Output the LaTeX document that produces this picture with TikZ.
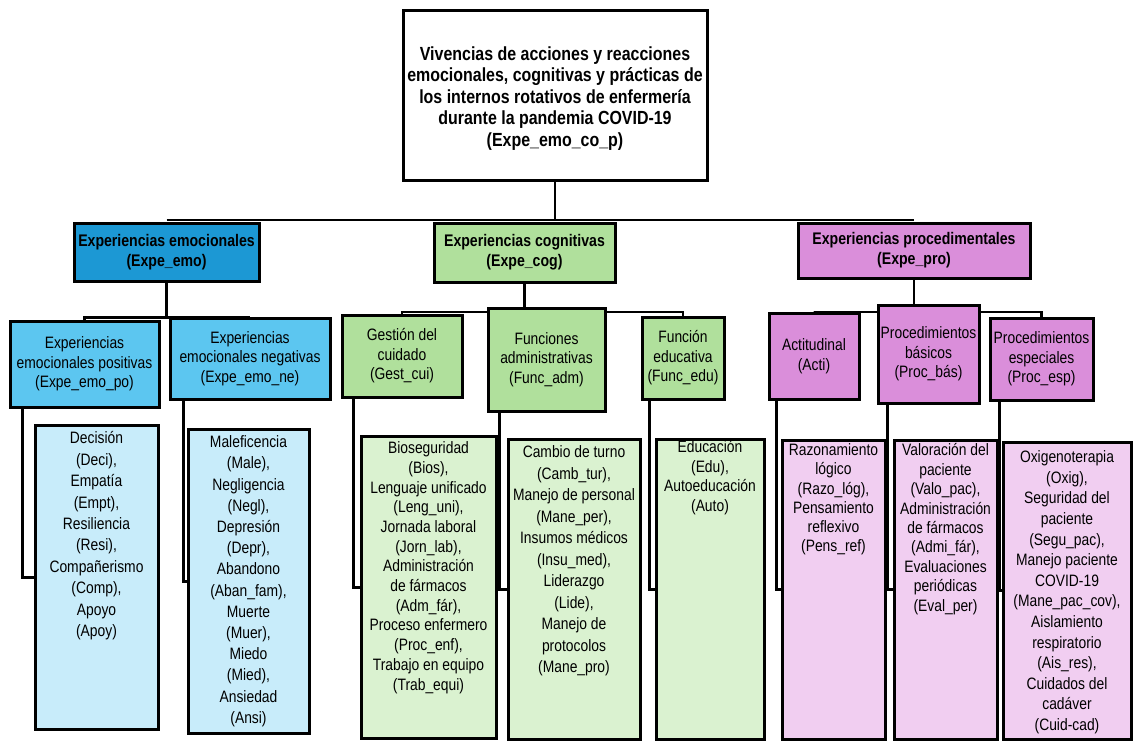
\documentclass[tikz,border=0pt]{standalone}
\usepackage{fontspec}
\setmainfont{Liberation Sans}
\newfontfamily\narrowfont{Liberation Sans}[FakeStretch=0.84]
\usetikzlibrary{positioning,backgrounds}
\definecolor{emoDark}{RGB}{28,152,212}
\definecolor{emoMid}{RGB}{92,198,240}
\definecolor{emoLight}{RGB}{200,236,250}
\definecolor{cogMid}{RGB}{176,224,156}
\definecolor{cogLight}{RGB}{218,242,208}
\definecolor{proMid}{RGB}{218,142,218}
\definecolor{proLight}{RGB}{241,206,241}
\tikzset{
    conn/.style={line width=2.5pt},
    elbow/.style={line width=3pt},
    boxbase/.style={draw, line width=3pt, inner sep=1pt, align=center},
    titlebox/.style={boxbase, fill=white},
    titletext/.style={align=center, inner sep=0pt, font=\narrowfont\bfseries\fontsize{19}{21.5}\selectfont},
    catbox/.style={boxbase, font=\narrowfont\bfseries\fontsize{16.8}{20}\selectfont},
    subbox/.style={boxbase, font=\narrowfont\fontsize{16.5}{19.5}\selectfont},
    leafbox/.style={draw, line width=3pt},
    leaftext/.style={align=center, inner sep=0pt, font=\narrowfont\fontsize{16.5}{#1}\selectfont}
}
\begin{document}
\begin{tikzpicture}[x=1pt,y=-1pt]
    \useasboundingbox (0,0) rectangle (1133,740);
    \node[titlebox, minimum width=304pt, minimum height=170pt] (top) at (555,95) {};
    \node[titletext, below=38pt of top.north] (topT)
        {Vivencias de acciones y reacciones\\
         emocionales, cognitivas y prácticas de\\
         los internos rotativos de enfermería\\
         durante la pandemia COVID-19\\
         (Expe\_emo\_co\_p)};
    \node[catbox, fill=emoDark, minimum width=185pt, minimum height=58pt] (emo) at (166.5,252)
        {Experiencias emocionales\\(Expe\_emo)};
    \node[catbox, fill=cogMid, minimum width=181pt, minimum height=59pt] (cog) at (524.5,252.5)
        {Experiencias cognitivas\\(Expe\_cog)};
    \node[catbox, fill=proMid, minimum width=232pt, minimum height=55pt] (pro) at (914,250.5)
        {Experiencias procedimentales\\(Expe\_pro)};
    \node[subbox, fill=emoMid, minimum width=149pt, minimum height=86pt] (po) at (84.5,364)
        {Experiencias\\emocionales positivas\\(Expe\_emo\_po)};
    \node[subbox, fill=emoMid, minimum width=160pt, minimum height=81pt] (ne) at (250,358.5)
        {Experiencias\\emocionales negativas\\(Expe\_emo\_ne)};
    \node[subbox, fill=cogMid, minimum width=120pt, minimum height=82pt] (gest) at (402,356)
        {Gestión del\\cuidado\\(Gest\_cui)};
    \node[subbox, fill=cogMid, minimum width=117pt, minimum height=103pt] (adm) at (546.5,359.5)
        {Funciones\\administrativas\\(Func\_adm)};
    \node[subbox, fill=cogMid, minimum width=82pt, minimum height=82pt] (edu) at (683,358)
        {Función\\educativa\\(Func\_edu)};
    \node[subbox, fill=proMid, minimum width=90pt, minimum height=86pt] (acti) at (814,356)
        {Actitudinal\\(Acti)};
    \node[subbox, fill=proMid, minimum width=101pt, minimum height=98pt] (bas) at (928.5,354)
        {Procedimientos\\básicos\\(Proc\_bás)};
    \node[subbox, fill=proMid, minimum width=103pt, minimum height=82pt] (esp) at (1041.5,359)
        {Procedimientos\\especiales\\(Proc\_esp)};
    \node[leafbox, fill=emoLight, minimum width=123pt, minimum height=304pt] (poL) at (96.5,577) {};
    \node[leafbox, fill=emoLight, minimum width=121pt, minimum height=304pt] (neL) at (248.5,581) {};
    \node[leafbox, fill=cogLight, minimum width=135pt, minimum height=302pt] (gestL) at (428.5,587) {};
    \node[leafbox, fill=cogLight, minimum width=132pt, minimum height=300pt] (admL) at (574,589) {};
    \node[leafbox, fill=cogLight, minimum width=108pt, minimum height=300pt] (eduL) at (710,589) {};
    \node[leafbox, fill=proLight, minimum width=103pt, minimum height=299pt] (actiL) at (833.5,589.5) {};
    \node[leafbox, fill=proLight, minimum width=103pt, minimum height=299pt] (basL) at (945.5,589.5) {};
    \node[leafbox, fill=proLight, minimum width=128pt, minimum height=297pt] (espL) at (1067,590.5) {};
    \node[leaftext=21.4, below=8pt of poL.north] (poT)
        {Decisión\\(Deci),\\Empatía\\(Empt),\\Resiliencia\\(Resi),\\Compañerismo\\(Comp),\\Apoyo\\(Apoy)};
    \node[leaftext=21.2, below=8pt of neL.north] (neT)
        {Maleficencia\\(Male),\\Negligencia\\(Negl),\\Depresión\\(Depr),\\Abandono\\(Aban\_fam),\\Muerte\\(Muer),\\Miedo\\(Mied),\\Ansiedad\\(Ansi)};
    \node[leaftext=19.7, below=7pt of gestL.north] (gestT)
        {Bioseguridad\\(Bios),\\Lenguaje unificado\\(Leng\_uni),\\Jornada laboral\\(Jorn\_lab),\\Administración\\de fármacos\\(Adm\_fár),\\Proceso enfermero\\(Proc\_enf),\\Trabajo en equipo\\(Trab\_equi)};
    \node[leaftext=21.5, below=8pt of admL.north] (admT)
        {Cambio de turno\\(Camb\_tur),\\Manejo de personal\\(Mane\_per),\\Insumos médicos\\(Insu\_med),\\Liderazgo\\(Lide),\\Manejo de\\protocolos\\(Mane\_pro)};
    \node[leaftext=19.4, below=3pt of eduL.north] (eduT)
        {Educación\\(Edu),\\Autoeducación\\(Auto)};
    \node[leaftext=19.2, below=5pt of actiL.north] (actiT)
        {Razonamiento\\lógico\\(Razo\_lóg),\\Pensamiento\\reflexivo\\(Pens\_ref)};
    \node[leaftext=19.4, below=5pt of basL.north] (basT)
        {Valoración del\\paciente\\(Valo\_pac),\\Administración\\de fármacos\\(Admi\_fár),\\Evaluaciones\\periódicas\\(Eval\_per)};
    \node[leaftext=20.6, below=10pt of espL.north] (espT)
        {Oxigenoterapia\\(Oxig),\\Seguridad del\\paciente\\(Segu\_pac),\\Manejo paciente\\COVID-19\\(Mane\_pac\_cov),\\Aislamiento\\respiratorio\\(Ais\_res),\\Cuidados del\\cadáver\\(Cuid-cad)};
    \begin{pgfonlayer}{background}
        \coordinate (bus) at (555,220);
        \coordinate (emoBus) at (166.5,317.5);
        \coordinate (cogBus) at (524.5,312);
        \coordinate (proBus) at (914,312);
        \draw[conn] (top.south) -- (bus);
        \draw[conn] (emo.north |- bus) -- (pro.north |- bus);
        \draw[conn] (emo.south) -- (emoBus);
        \draw[conn] (po.north) -- (po.north |- emoBus) -- (ne.north |- emoBus) -- (ne.north);
        \draw[conn] (cog.south) -- (cogBus);
        \draw[conn] (gest.north) -- (gest.north |- cogBus) -- (edu.north |- cogBus) -- (edu.north);
        \draw[conn] (pro.south) -- (proBus);
        \draw[conn] (acti.north) -- (acti.north |- proBus) -- (esp.north |- proBus) -- (esp.north);
        \foreach \s/\l/\d in {po/poL/11, ne/neL/3, gest/gestL/6, adm/admL/7,
                              edu/eduL/5, acti/actiL/4, bas/basL/5, esp/espL/2}
            \draw[elbow] ([xshift=-\d pt]\l.west |- \s.south) |- (\l.west);
    \end{pgfonlayer}
\end{tikzpicture}
\end{document}
